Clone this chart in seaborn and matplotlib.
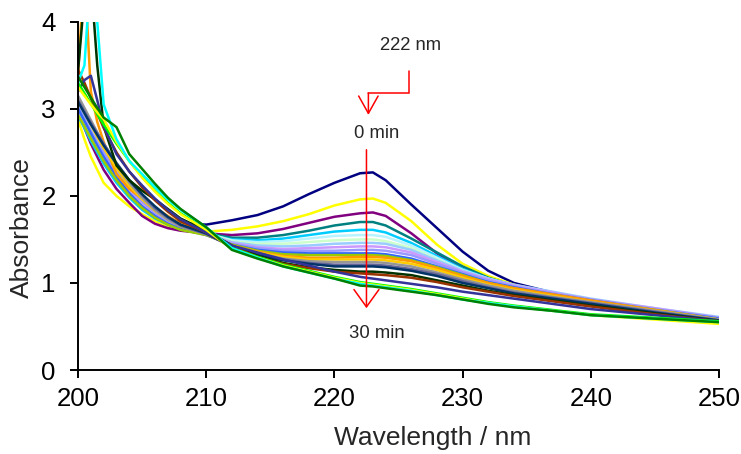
import matplotlib
matplotlib.use("Agg")
import matplotlib.pyplot as plt
import seaborn as sns
import pandas as pd

# wavelength grid (nm) shared by all spectra
wavelength = [200, 200.5, 201, 201.5, 202, 203, 204, 205, 206, 207, 208, 210,
              212, 214, 216, 218, 220, 222, 223, 224, 226, 228, 230, 232, 234,
              237, 240, 245, 250]

# absorbance spectra, 0 min (top) -> 30 min (bottom)
navy = [3.05, 2.92, 2.78, 2.65, 2.52, 2.30, 2.12, 1.97, 1.84, 1.75, 1.69, 1.67,
        1.72, 1.78, 1.88, 2.02, 2.15, 2.26, 2.27, 2.18, 1.90, 1.63, 1.36, 1.14, 1.00, 0.89, 0.81, 0.69, 0.58]
yellow_a = [2.88, 2.65, 2.45, 2.30, 2.15, 2.00, 1.88, 1.79, 1.71, 1.65, 1.61, 1.59,
            1.61, 1.65, 1.71, 1.79, 1.89, 1.96, 1.97, 1.92, 1.71, 1.44, 1.22, 1.08, 0.98, 0.88, 0.80, 0.69, 0.57]
purple = [2.95, 2.78, 2.60, 2.45, 2.30, 2.08, 1.92, 1.77, 1.68, 1.63, 1.60, 1.57,
          1.55, 1.57, 1.62, 1.69, 1.76, 1.80, 1.81, 1.77, 1.57, 1.34, 1.16, 1.04, 0.96, 0.87, 0.79, 0.68, 0.58]
teal = [2.95, 2.82, 2.68, 2.55, 2.42, 2.20, 2.03, 1.89, 1.78, 1.69, 1.63, 1.57,
        1.52, 1.52, 1.55, 1.60, 1.66, 1.70, 1.70, 1.66, 1.51, 1.35, 1.19, 1.06, 0.97, 0.88, 0.80, 0.69, 0.58]
sky = [2.92, 2.78, 2.63, 2.50, 2.37, 2.15, 1.98, 1.84, 1.74, 1.67, 1.62, 1.56,
       1.50, 1.49, 1.51, 1.55, 1.59, 1.61, 1.61, 1.58, 1.46, 1.31, 1.16, 1.05, 0.97, 0.88, 0.80, 0.70, 0.59]
pale_cyan = [3.00, 2.87, 2.73, 2.60, 2.48, 2.26, 2.08, 1.93, 1.81, 1.72, 1.65, 1.57,
             1.49, 1.47, 1.48, 1.51, 1.54, 1.55, 1.55, 1.53, 1.43, 1.29, 1.15, 1.05, 0.97, 0.89, 0.81, 0.70, 0.60]
pale_green = [3.05, 2.92, 2.78, 2.65, 2.52, 2.30, 2.11, 1.96, 1.83, 1.73, 1.66, 1.57,
              1.48, 1.45, 1.45, 1.47, 1.49, 1.50, 1.50, 1.48, 1.40, 1.27, 1.14, 1.04, 0.97, 0.89, 0.81, 0.70, 0.60]
light_blue = [2.95, 2.82, 2.69, 2.56, 2.44, 2.23, 2.05, 1.90, 1.78, 1.69, 1.63, 1.56,
              1.47, 1.43, 1.42, 1.43, 1.45, 1.46, 1.46, 1.45, 1.38, 1.26, 1.14, 1.05, 0.98, 0.90, 0.82, 0.71, 0.61]
lavender = [2.98, 2.85, 2.72, 2.59, 2.47, 2.25, 2.07, 1.92, 1.80, 1.70, 1.64, 1.56,
            1.46, 1.41, 1.39, 1.40, 1.41, 1.42, 1.42, 1.41, 1.35, 1.24, 1.13, 1.04, 0.97, 0.89, 0.81, 0.71, 0.60]
periwinkle = [3.02, 2.89, 2.75, 2.62, 2.50, 2.28, 2.09, 1.94, 1.81, 1.71, 1.64, 1.56,
              1.45, 1.40, 1.37, 1.37, 1.37, 1.38, 1.38, 1.37, 1.32, 1.22, 1.12, 1.03, 0.96, 0.88, 0.81, 0.70, 0.60]
blue = [3.00, 2.86, 2.72, 2.58, 2.45, 2.22, 2.03, 1.88, 1.77, 1.68, 1.62, 1.55,
        1.44, 1.38, 1.35, 1.34, 1.34, 1.34, 1.34, 1.33, 1.28, 1.19, 1.10, 1.01, 0.95, 0.87, 0.80, 0.69, 0.59]
olive = [2.93, 2.80, 2.66, 2.53, 2.40, 2.18, 2.00, 1.86, 1.75, 1.67, 1.61, 1.55,
         1.44, 1.37, 1.33, 1.32, 1.32, 1.32, 1.32, 1.31, 1.26, 1.18, 1.09, 1.00, 0.94, 0.86, 0.79, 0.69, 0.58]
orange = [3.40, 4.60, 3.20, 2.85, 2.62, 2.25, 2.08, 1.97, 1.87, 1.77, 1.68, 1.57,
          1.43, 1.36, 1.31, 1.29, 1.29, 1.30, 1.30, 1.29, 1.25, 1.17, 1.08, 1.00, 0.94, 0.87, 0.80, 0.69, 0.58]
gold = [3.10, 2.96, 2.82, 2.68, 2.55, 2.32, 2.12, 1.96, 1.83, 1.73, 1.65, 1.56,
        1.43, 1.35, 1.30, 1.27, 1.27, 1.27, 1.27, 1.26, 1.22, 1.15, 1.06, 0.98, 0.92, 0.85, 0.78, 0.68, 0.58]
grey = [3.15, 3.01, 2.87, 2.73, 2.60, 2.36, 2.15, 1.98, 1.84, 1.73, 1.65, 1.56,
        1.42, 1.34, 1.28, 1.25, 1.24, 1.24, 1.24, 1.23, 1.19, 1.12, 1.04, 0.97, 0.91, 0.84, 0.78, 0.68, 0.58]
slate = [3.10, 2.97, 2.84, 2.72, 2.60, 2.38, 2.18, 2.01, 1.86, 1.75, 1.66, 1.56,
         1.42, 1.33, 1.27, 1.23, 1.21, 1.21, 1.21, 1.20, 1.16, 1.10, 1.02, 0.95, 0.89, 0.83, 0.77, 0.67, 0.57]
dark_navy = [3.08, 2.95, 2.82, 2.70, 2.58, 2.37, 2.18, 2.02, 1.88, 1.76, 1.67, 1.57,
             1.42, 1.32, 1.26, 1.22, 1.19, 1.19, 1.19, 1.18, 1.14, 1.08, 1.00, 0.94, 0.88, 0.82, 0.76, 0.66, 0.57]
dark_green = [3.43, 4.30, 4.50, 3.50, 2.80, 2.35, 2.18, 2.06, 1.96, 1.85, 1.74, 1.60,
              1.43, 1.31, 1.23, 1.18, 1.15, 1.13, 1.13, 1.12, 1.09, 1.03, 0.97, 0.91, 0.86, 0.80, 0.74, 0.65, 0.56]
brown = [3.45, 3.30, 3.12, 2.95, 2.78, 2.50, 2.28, 2.10, 1.95, 1.82, 1.71, 1.58,
         1.42, 1.30, 1.22, 1.17, 1.13, 1.11, 1.10, 1.09, 1.06, 1.01, 0.95, 0.90, 0.85, 0.79, 0.73, 0.64, 0.56]
indigo = [3.20, 3.33, 3.38, 3.10, 2.80, 2.48, 2.28, 2.12, 1.97, 1.84, 1.73, 1.58,
          1.43, 1.35, 1.27, 1.20, 1.13, 1.07, 1.05, 1.03, 0.99, 0.95, 0.90, 0.86, 0.82, 0.76, 0.70, 0.63, 0.56]
lime = [3.30, 3.18, 3.06, 2.94, 2.82, 2.60, 2.40, 2.22, 2.06, 1.92, 1.80, 1.62,
        1.40, 1.30, 1.21, 1.14, 1.07, 1.01, 0.99, 0.97, 0.93, 0.88, 0.83, 0.78, 0.74, 0.69, 0.64, 0.60, 0.56]
yellow_b = [3.25, 3.15, 3.05, 2.96, 2.88, 2.62, 2.40, 2.21, 2.05, 1.91, 1.79, 1.61,
            1.39, 1.29, 1.20, 1.13, 1.06, 1.00, 0.98, 0.96, 0.92, 0.87, 0.82, 0.77, 0.73, 0.68, 0.63, 0.58, 0.53]
cyan = [3.30, 3.50, 4.60, 4.00, 3.05, 2.65, 2.40, 2.25, 2.10, 1.96, 1.84, 1.64,
        1.40, 1.29, 1.19, 1.12, 1.05, 0.99, 0.97, 0.95, 0.91, 0.86, 0.81, 0.77, 0.73, 0.68, 0.63, 0.59, 0.55]
green = [3.37, 3.25, 3.13, 3.01, 2.90, 2.79, 2.48, 2.31, 2.14, 1.98, 1.85, 1.64,
         1.38, 1.28, 1.19, 1.12, 1.05, 0.97, 0.96, 0.94, 0.90, 0.86, 0.81, 0.76, 0.72, 0.68, 0.63, 0.59, 0.55]

spectra = [navy, yellow_a, purple, teal, sky, pale_cyan, pale_green, light_blue,
           lavender, periwinkle, blue, olive, orange, gold, grey, slate,
           dark_navy, dark_green, brown, indigo, lime, yellow_b, cyan, green]
colors = ["#000080", "#FFFF00", "#800080", "#008080", "#00CCFF", "#B8F4FF",
          "#CCFFCC", "#99CCFF", "#CC99FF", "#9999FF", "#3366FF", "#99CC00",
          "#FF9900", "#FFCC00", "#969696", "#666699", "#003366", "#003300",
          "#993300", "#333399", "#00FF00", "#FFFF00", "#00FFFF", "#008000"]

rows = []
for i, spec in enumerate(spectra):
    for wl, a in zip(wavelength, spec):
        rows.append({"curve": i, "wl": wl, "abs": a})
df = pd.DataFrame(rows)

sns.set_style("ticks")
plt.rcParams["font.family"] = ["Liberation Sans", "DejaVu Sans"]

fig = plt.figure(figsize=(7.41, 4.54), dpi=100)
ax = fig.add_axes([0.1053, 0.185, 0.8650, 0.767])

sns.lineplot(data=df, x="wl", y="abs", hue="curve", palette=colors,
             legend=False, estimator=None, sort=False, linewidth=1.8, ax=ax)

ax.set_xlim(200, 250)
ax.set_ylim(0, 4)
ax.set_xticks([200, 210, 220, 230, 240, 250])
ax.set_yticks([0, 1, 2, 3, 4])
sns.despine(ax=ax)
for s in ["left", "bottom"]:
    ax.spines[s].set_linewidth(1.4)
    ax.spines[s].set_color("black")
ax.tick_params(axis="both", direction="out", length=6, width=1.4,
               colors="black", labelsize=18.5)
ax.tick_params(axis="x", pad=6)
ax.tick_params(axis="y", pad=10)

ax.set_xlabel("Wavelength / nm", fontsize=19)
ax.set_ylabel("Absorbance", fontsize=19)
ax.xaxis.set_label_coords(0.554, -0.195)
ax.xaxis.label.set_va("center")
ax.yaxis.set_label_coords(-0.087, 0.408)
ax.yaxis.label.set_va("center")

# annotations
red = "#FF0000"
ax.text(225.95, 3.73, "222 nm", fontsize=13.3, ha="center", va="center")
ax.text(223.3, 2.72, "0 min", fontsize=13.3, ha="center", va="center")
ax.text(223.3, 0.425, "30 min", fontsize=13.3, ha="center", va="center")

ax.plot([225.8, 225.8, 222.65], [3.44, 3.18, 3.18], color=red, lw=1.1,
        solid_joinstyle="miter")
ax.annotate("", xy=(222.65, 2.93), xytext=(222.65, 3.18),
            arrowprops=dict(arrowstyle="->,head_length=1.25,head_width=0.7",
                            color=red, lw=1.1, shrinkA=0, shrinkB=0,
                            mutation_scale=10))
ax.annotate("", xy=(222.5, 0.71), xytext=(222.5, 2.53),
            arrowprops=dict(arrowstyle="->,head_length=1.25,head_width=0.9",
                            color=red, lw=1.1, shrinkA=0, shrinkB=0,
                            mutation_scale=10))

fig.savefig("out.png", dpi=100)
